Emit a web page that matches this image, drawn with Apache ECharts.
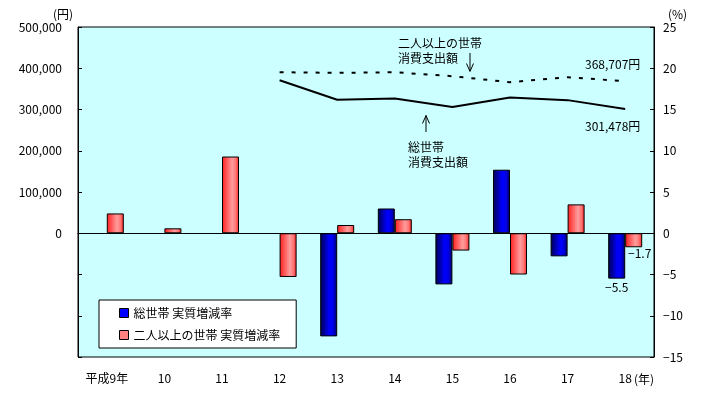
<!DOCTYPE html>
<html lang="ja">
<head>
<meta charset="UTF-8">
<title>消費支出額と実質増減率</title>
</head>
<body style="margin: 0">
<div id="container" style="width: 721px; height: 398px"></div>
<script src="https://cdn.jsdelivr.net/npm/echarts@6/dist/echarts.min.js"></script>
<script>
    const years = ['平成9年', '10', '11', '12', '13', '14', '15', '16', '17', '18'];
    // 実質増減率 (%)
    const sotaiRate = [null, null, null, null, -12.5, 3.0, -6.2, 7.7, -2.8, -5.5];
    const futariRate = [2.4, 0.6, 9.3, -5.3, 1.0, 1.7, -2.1, -5.0, 3.5, -1.7];
    // 消費支出額 (円)
    const sotaiSpend = [null, null, null, 371000, 323700, 326800, 305800, 329200, 322700, 301478];
    const futariSpend = [null, null, null, 390300, 388900, 390300, 380700, 366200, 378300, 368707];

    const FONT = '"Noto Sans CJK JP", "Noto Sans", sans-serif';
    const minus = s => String(s).replace('-', '−');

    function comma(v) {
        return String(v).replace(/\B(?=(\d{3})+(?!\d))/g, ',');
    }

    const blueFill = new echarts.graphic.LinearGradient(0, 0, 1, 0, [
        {offset: 0, color: '#000050'},
        {offset: 0.55, color: '#0000ff'},
        {offset: 0.75, color: '#0000e8'},
        {offset: 1, color: '#000068'}
    ]);
    const redFill = new echarts.graphic.LinearGradient(0, 0, 1, 0, [
        {offset: 0, color: '#ff1c1c'},
        {offset: 0.6, color: '#ff9c9c'},
        {offset: 0.8, color: '#ff7a7a'},
        {offset: 1, color: '#ff1c1c'}
    ]);

    function txt(text, x, y, align) {
        return {
            type: 'text', x: x, y: y, z: 100,
            style: {text: text, font: '12px ' + FONT, fill: '#000', textAlign: align || 'left', textVerticalAlign: 'middle'}
        };
    }

    function line(points) {
        return {
            type: 'polyline', z: 100,
            shape: {points: points},
            style: {stroke: '#000', lineWidth: 1, fill: null}
        };
    }

    const chart = echarts.init(document.getElementById('container'));
    const option = {
        backgroundColor: '#fff',
        animation: false,
        textStyle: {fontFamily: FONT},
        grid: {
            left: 78, right: 67, top: 27, bottom: 41,
            show: true, backgroundColor: '#ccffff', borderColor: '#000', borderWidth: 1
        },
        legend: {
            orient: 'vertical',
            left: 99, top: 300,
            backgroundColor: '#fff',
            borderColor: '#000', borderWidth: 1, borderRadius: 0,
            padding: [7, 16, 7, 20],
            itemGap: 10,
            itemWidth: 9, itemHeight: 9,
            icon: 'rect',
            textStyle: {fontSize: 12, color: '#000', fontFamily: FONT},
            data: [
                {name: '総世帯 実質増減率', itemStyle: {color: '#0000ff', borderColor: '#000', borderWidth: 1}},
                {name: '二人以上の世帯 実質増減率', itemStyle: {color: '#ff8080', borderColor: '#000', borderWidth: 1}}
            ]
        },
        xAxis: [
            {
                type: 'category',
                data: years,
                position: 'bottom',
                axisLine: {onZero: false, show: false},
                axisTick: {show: false},
                axisLabel: {margin: 15, fontSize: 12, color: '#000', fontFamily: FONT, interval: 0}
            },
            {
                type: 'category',
                data: years,
                position: 'bottom',
                axisLine: {onZero: true, onZeroAxisIndex: 1, lineStyle: {color: '#000', width: 1}},
                axisTick: {inside: true, length: 4, lineStyle: {color: '#000'}},
                axisLabel: {show: false}
            }
        ],
        yAxis: [
            {
                type: 'value',
                position: 'left',
                min: -300000, max: 500000, interval: 100000,
                splitLine: {show: false},
                axisLine: {show: true, lineStyle: {color: '#000'}},
                axisTick: {show: true, inside: true, length: 4, lineStyle: {color: '#000'}},
                axisLabel: {
                    margin: 16, fontSize: 12, color: '#000', fontFamily: FONT,
                    formatter: v => v < 0 ? '' : comma(v)
                }
            },
            {
                type: 'value',
                position: 'right',
                min: -15, max: 25, interval: 5,
                splitLine: {show: false},
                axisLine: {show: true, lineStyle: {color: '#000'}},
                axisTick: {show: true, inside: true, length: 4, lineStyle: {color: '#000'}},
                axisLabel: {
                    margin: 9, fontSize: 12, color: '#000', fontFamily: FONT,
                    formatter: v => minus(v)
                }
            }
        ],
        series: [
            {
                name: '総世帯 実質増減率',
                type: 'bar',
                xAxisIndex: 0, yAxisIndex: 1,
                barWidth: 17, barGap: '0%',
                itemStyle: {color: blueFill, borderColor: '#000', borderWidth: 1},
                label: {
                    show: false, fontSize: 12, color: '#000', fontFamily: FONT,
                    formatter: p => minus(p.value)
                },
                data: sotaiRate.map((v, i) => i === sotaiRate.length - 1
                    ? {value: v, label: {show: true, position: 'bottom', distance: 3}}
                    : v)
            },
            {
                name: '二人以上の世帯 実質増減率',
                type: 'bar',
                xAxisIndex: 0, yAxisIndex: 1,
                barWidth: 17, barGap: '0%',
                itemStyle: {color: redFill, borderColor: '#000', borderWidth: 1},
                label: {
                    show: false, fontSize: 12, color: '#000', fontFamily: FONT,
                    formatter: p => minus(p.value)
                },
                data: futariRate.map((v, i) => i === futariRate.length - 1
                    ? {value: v, label: {show: true, position: 'bottom', distance: 0, offset: [6, 0]}}
                    : v)
            },
            {
                name: '総世帯 消費支出額',
                type: 'line',
                xAxisIndex: 0, yAxisIndex: 0,
                symbol: 'none',
                z: 5,
                lineStyle: {color: '#000', width: 2},
                data: sotaiSpend
            },
            {
                name: '二人以上の世帯 消費支出額',
                type: 'line',
                xAxisIndex: 0, yAxisIndex: 0,
                symbol: 'none',
                z: 5,
                lineStyle: {color: '#000', width: 2, type: [4, 8]},
                data: futariSpend
            }
        ],
        graphic: [
            txt('(円)', 53, 14),
            txt('(%)', 668, 14),
            txt('(年)', 634, 379),
            txt('二人以上の世帯', 398, 43),
            txt('消費支出額', 398, 58),
            txt('総世帯', 408, 147),
            txt('消費支出額', 408, 162),
            txt('368,707円', 585, 64),
            txt('301,478円', 585, 126),
            line([[470, 53], [470, 71]]),
            line([[466.5, 63.5], [470, 71.5], [473.5, 63.5]]),
            line([[426, 115.5], [426, 132]]),
            line([[422.5, 123.5], [426, 115.5], [429.5, 123.5]])
        ]
    };
    chart.setOption(option);
</script>
</body>
</html>
